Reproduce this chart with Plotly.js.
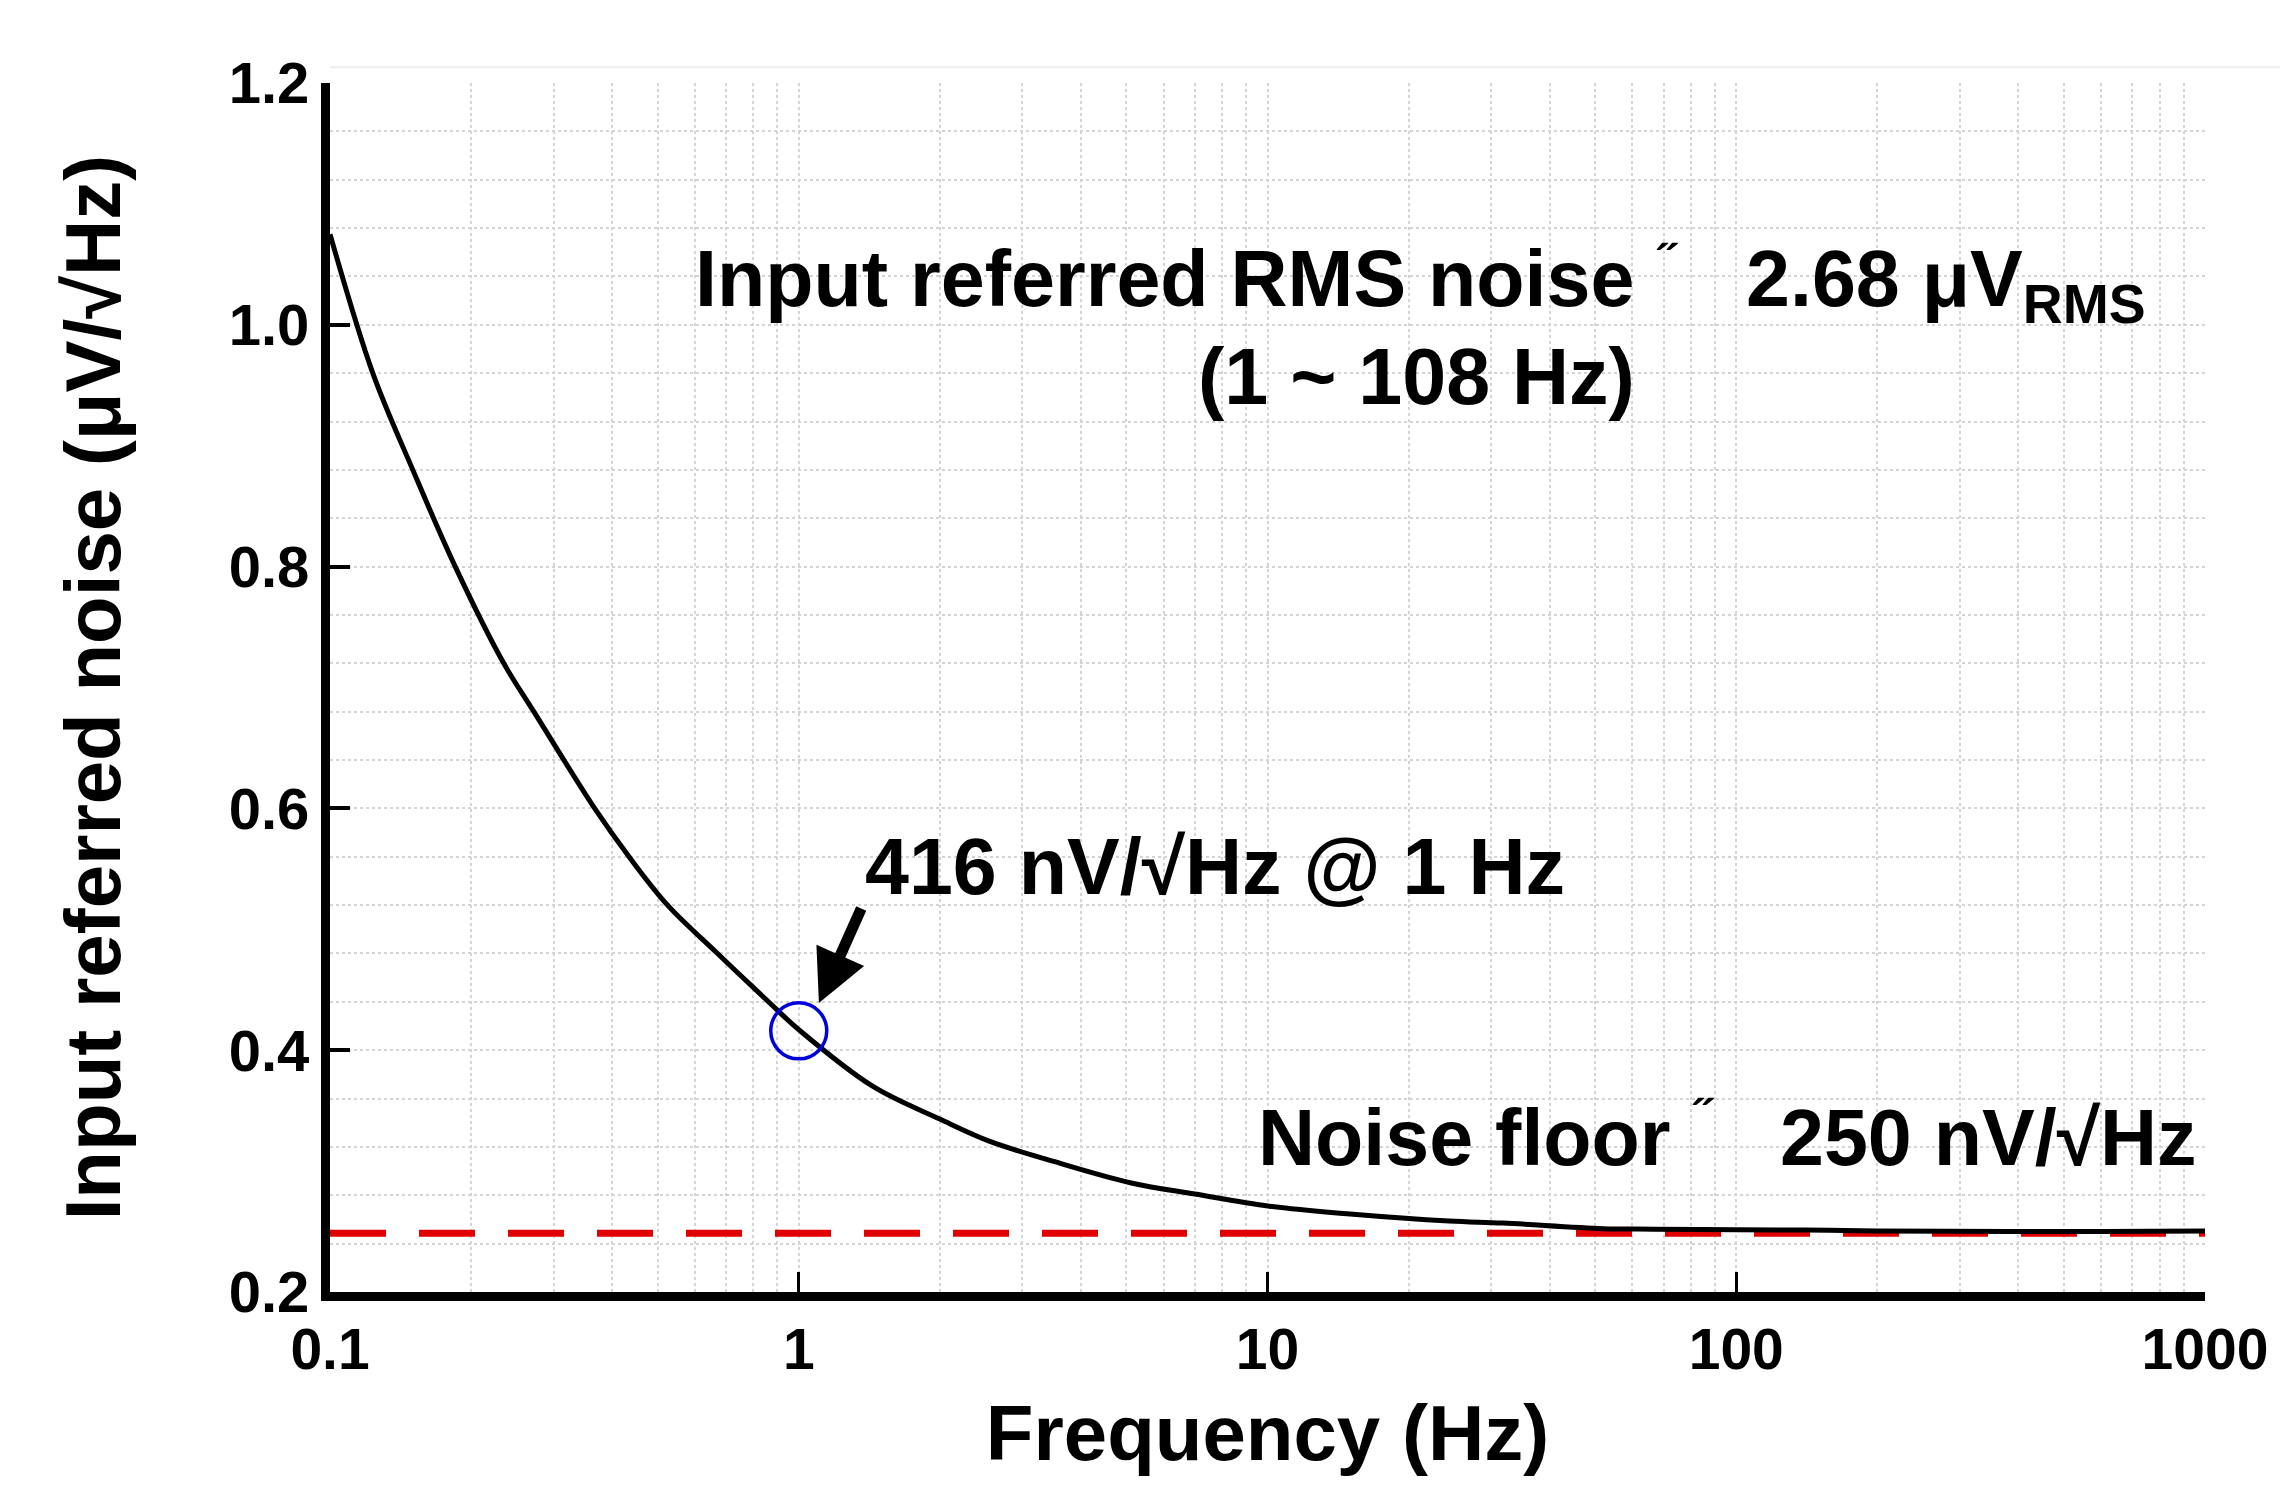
<!DOCTYPE html>
<html>
<head>
<meta charset="utf-8">
<script src="https://cdn.plot.ly/plotly-3.0.1.min.js"></script>
<style>html,body{margin:0;padding:0;background:#fff;}#chart{width:2291px;height:1511px;}</style>
</head>
<body>
<div id="chart"></div>
<script>
// ---- Data ----
const freqHz = [0.1, 0.1234, 0.1502, 0.185, 0.2348, 0.2722, 0.367, 0.4345, 0.525, 0.671, 0.873, 1.0, 1.44, 2.0, 2.54, 3.5, 5.15, 7.0, 10.1, 15, 24.4, 31.8, 52, 66.8, 100, 141, 200, 381, 600, 1000];
const noiseUv = [1.075, 0.96, 0.88, 0.80, 0.72, 0.68, 0.60, 0.56, 0.52, 0.48, 0.438, 0.417, 0.370, 0.343, 0.325, 0.308, 0.290, 0.281, 0.271, 0.2645, 0.2587, 0.257, 0.2524, 0.2520, 0.2515, 0.2512, 0.2505, 0.2500, 0.2500, 0.2505];
const floorFreq = [0.1, 1000];
const floorLevel = [0.2485, 0.2485];
const markFreq = [1];
const markNoise = [0.416];
const xTickVals = [0.1, 1, 10, 100, 1000];
const xTickText = ['0.1', '1', '10', '100', '1000'];
const yTickVals = [0.2, 0.4, 0.6, 0.8, 1.0, 1.2];
const yTickText = ['0.2', '0.4', '0.6', '0.8', '1.0', '1.2'];

const FONT = 'Liberation Sans, Arial, Helvetica, sans-serif';

const traces = [
  {
    x: floorFreq, y: floorLevel, type: 'scatter', mode: 'lines',
    line: {color: '#e00000', width: 7, dash: '56px,33px'},
    hoverinfo: 'skip', showlegend: false
  },
  {
    x: freqHz, y: noiseUv, type: 'scatter', mode: 'lines',
    line: {color: '#000000', width: 5, shape: 'spline', smoothing: 1},
    showlegend: false
  },
  {
    x: markFreq, y: markNoise, type: 'scatter', mode: 'markers',
    marker: {symbol: 'circle-open', size: 56, color: '#0000dd', line: {color: '#0000dd', width: 3.5}},
    showlegend: false
  }
];

const gridColor = '#d4d4d4';
const annFont = {family: FONT, size: 79, color: '#000', weight: 'bold'};
const markFont = {family: FONT, size: 50, color: '#000', weight: 'bold'};

const layout = {
  width: 2291, height: 1511,
  margin: {l: 330, r: 86, t: 83, b: 219, pad: 0},
  paper_bgcolor: '#ffffff', plot_bgcolor: '#ffffff',
  font: {family: FONT, color: '#000', size: 58, weight: 'bold'},
  showlegend: false,
  xaxis: {
    type: 'log', range: [-1, 3],
    tickmode: 'array', tickvals: xTickVals, ticktext: xTickText,
    ticks: 'inside', ticklen: 20, tickwidth: 3, tickcolor: '#000',
    tickfont: {family: FONT, size: 57, color: '#000', weight: 'bold'},
    ticklabelstandoff: 0,
    showline: true, linecolor: '#000', linewidth: 9, mirror: false,
    showgrid: true, gridcolor: gridColor, gridwidth: 2, griddash: 'dot',
    minor: {dtick: 'D1', showgrid: true, gridcolor: gridColor, gridwidth: 2, griddash: 'dot', ticks: ''},
    zeroline: false,
    title: {text: 'Frequency (Hz)', font: {family: FONT, size: 78, color: '#000', weight: 'bold'}, standoff: 28}
  },
  yaxis: {
    range: [0.2, 1.2],
    tickmode: 'array', tickvals: yTickVals, ticktext: yTickText,
    ticks: 'inside', ticklen: 20, tickwidth: 4, tickcolor: '#000',
    tickfont: {family: FONT, size: 58, color: '#000', weight: 'bold'},
    ticklabelstandoff: 0,
    showline: true, linecolor: '#000', linewidth: 9, mirror: false,
    showgrid: true, gridcolor: gridColor, gridwidth: 2, griddash: 'dot',
    minor: {dtick: 0.04, showgrid: true, gridcolor: gridColor, gridwidth: 2, griddash: 'dot', ticks: ''},
    zeroline: false,
    title: {text: 'Input referred noise (\u03bcV/\u221aHz)', font: {family: FONT, size: 78, color: '#000', weight: 'bold'}, standoff: 86}
  },
  shapes: [
    {type: 'line', xref: 'paper', yref: 'paper', x0: 0, x1: 1.04, y0: 1.013, y1: 1.013,
     line: {color: '#eeeeee', width: 2}}
  ],
  annotations: [
    {
      xref: 'x', yref: 'y', x: 1.7866, y: 1.077, xanchor: 'right', yanchor: 'top',
      text: 'Input referred RMS noise', showarrow: false, font: annFont
    },
    {
      xref: 'x', yref: 'y', x: 1.853, y: 1.052, xanchor: 'center', yanchor: 'middle',
      text: '\u02dd', showarrow: false, font: markFont
    },
    {
      xref: 'x', yref: 'y', x: 2.0175, y: 1.077, xanchor: 'left', yanchor: 'top',
      text: '2.68 \u03bcV<sub>RMS</sub>', showarrow: false, font: annFont
    },
    {
      xref: 'x', yref: 'y', x: 1.318, y: 0.957, xanchor: 'center', yanchor: 'middle',
      text: '(1 ~ 108 Hz)', showarrow: false, font: annFont
    },
    {
      xref: 'x', yref: 'y', x: 0.888, y: 0.552, xanchor: 'center', yanchor: 'middle',
      text: '416 nV/\u221aHz @ 1 Hz', showarrow: false, font: annFont
    },
    {
      xref: 'x', yref: 'y', x: 1.8657, y: 0.328, xanchor: 'right', yanchor: 'middle',
      text: 'Noise floor', showarrow: false, font: annFont
    },
    {
      xref: 'x', yref: 'y', x: 1.928, y: 0.345, xanchor: 'center', yanchor: 'middle',
      text: '\u02dd', showarrow: false, font: markFont
    },
    {
      xref: 'x', yref: 'y', x: 2.090, y: 0.328, xanchor: 'left', yanchor: 'middle',
      text: '250 nV/\u221aHz', showarrow: false, font: annFont
    },
    {
      xref: 'x', yref: 'y', x: 0.043, y: 0.439, text: '',
      showarrow: true, arrowhead: 2, arrowsize: 0.95, arrowwidth: 11, arrowcolor: '#000',
      ax: 43, ay: -96, standoff: 0
    }
  ]
};

Plotly.newPlot('chart', traces, layout, {displayModeBar: false, staticPlot: true});
</script>
</body>
</html>
